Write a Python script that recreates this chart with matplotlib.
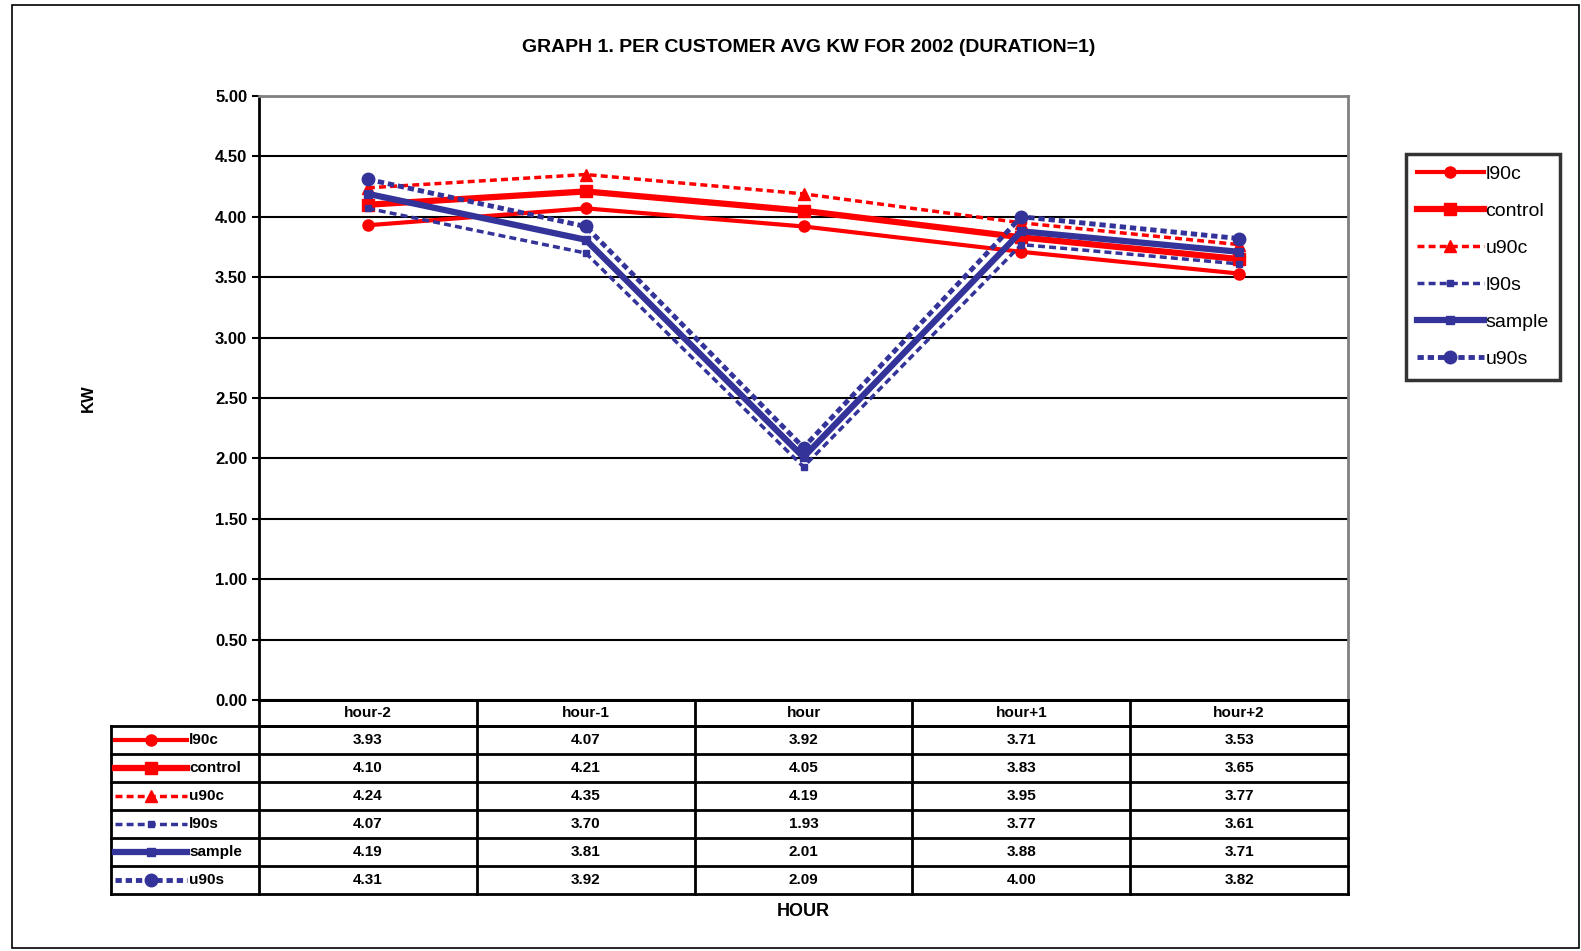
import matplotlib.pyplot as plt

plt.rcParams['font.family'] = ['Liberation Sans', 'DejaVu Sans']

hours = ['hour-2', 'hour-1', 'hour', 'hour+1', 'hour+2']
series = ['l90c', 'control', 'u90c', 'l90s', 'sample', 'u90s']
l90c = [3.93, 4.07, 3.92, 3.71, 3.53]
control = [4.10, 4.21, 4.05, 3.83, 3.65]
u90c = [4.24, 4.35, 4.19, 3.95, 3.77]
l90s = [4.07, 3.70, 1.93, 3.77, 3.61]
sample = [4.19, 3.81, 2.01, 3.88, 3.71]
u90s = [4.31, 3.92, 2.09, 4.00, 3.82]
values = [l90c, control, u90c, l90s, sample, u90s]

red = '#ff0000'
blue = '#333399'
# style per series: colour, linestyle, width, marker, marker size
styles = [
    (red, '-', 3.0, 'o', 8),
    (red, '-', 4.5, 's', 9),
    (red, (0, (2, 1.2)), 2.5, '^', 9),
    (blue, (0, (2, 1.2)), 2.5, 's', 5),
    (blue, '-', 4.5, 's', 6),
    (blue, (0, (1.3, 0.8)), 3.5, 'o', 9),
]

W, H = 1581, 951
fig = plt.figure(figsize=(W / 100, H / 100), dpi=100)

# pixel helper axes for frame and table
bg = fig.add_axes([0, 0, 1, 1])
bg.set_xlim(0, W)
bg.set_ylim(H, 0)
bg.axis('off')
bg.add_patch(plt.Rectangle((12, 5), W - 14, H - 8, fill=False, lw=1.2, ec='black'))

left, right, top, bottom = 259, 1348, 96, 700
ax = fig.add_axes([left / W, 1 - bottom / H, (right - left) / W, (bottom - top) / H])
ax.set_xlim(-0.5, len(hours) - 0.5)
ax.set_ylim(0, 5)
ax.set_yticks([i * 0.5 for i in range(11)])
ax.set_yticklabels(['%.2f' % (i * 0.5) for i in range(11)], fontsize=12, fontweight='bold')
ax.set_xticks([])
ax.grid(axis='y', color='black', lw=1.5)
ax.spines['top'].set_color('#808080')
ax.spines['right'].set_color('#808080')
ax.spines['top'].set_linewidth(2)
ax.spines['right'].set_linewidth(2)
ax.spines['left'].set_linewidth(2)
ax.spines['bottom'].set_linewidth(2)
ax.tick_params(axis='y', length=5, width=1.5)
ax.set_ylabel('KW', fontsize=12, fontweight='bold')
ax.yaxis.set_label_coords(-0.15, 0.5)

x = list(range(len(hours)))
handles = []
for name, vals, (c, ls, lw, mk, ms) in zip(series, values, styles):
    h, = ax.plot(x, vals, color=c, ls=ls, lw=lw, marker=mk, ms=ms, label=name, zorder=3)
    handles.append(h)

ax.set_title('GRAPH 1. PER CUSTOMER AVG KW FOR 2002 (DURATION=1)', fontsize=14,
             fontweight='bold', pad=32, x=0.505)

fig.legend(handles=handles, loc='upper left', bbox_to_anchor=(1396 / W, 1 - 144 / H),
           fontsize=14, handlelength=3.4, handletextpad=0.1, labelspacing=1.0,
           frameon=True, fancybox=False, edgecolor='black', borderpad=0.6)
leg = fig.legends[0]
leg.get_frame().set_linewidth(2.5)

# data table under the axis
tab_left = 111
col_w = (right - left) / len(hours)
head_bot = 726
row_h = (894 - head_bot) / len(series)
lk = dict(color='black', lw=2)
bg.plot([left, right], [bottom, bottom], **lk)
bg.plot([left, right], [head_bot, head_bot], **lk)
bg.plot([tab_left, right], [894, 894], **lk)
for i in range(len(series)):
    y = head_bot + i * row_h
    bg.plot([tab_left, right], [y, y], **lk)
bg.plot([tab_left, tab_left], [head_bot, 894], **lk)
for j in range(len(hours) + 1):
    xx = left + j * col_w
    bg.plot([xx, xx], [bottom, 894], **lk)
for j, hname in enumerate(hours):
    bg.text(left + (j + 0.5) * col_w, (bottom + head_bot) / 2, hname,
            ha='center', va='center', fontsize=11, fontweight='bold')
for i, (name, vals, (c, ls, lw, mk, ms)) in enumerate(zip(series, values, styles)):
    yc = head_bot + (i + 0.5) * row_h
    bg.plot([115, 187], [yc, yc], color=c, ls=ls, lw=lw)
    bg.plot([151], [yc], color=c, marker=mk, ms=ms)
    bg.text(189, yc, name, ha='left', va='center', fontsize=11, fontweight='bold')
    for j, v in enumerate(vals):
        bg.text(left + (j + 0.5) * col_w, yc, '%.2f' % v,
                ha='center', va='center', fontsize=11, fontweight='bold')

bg.text((left + right) / 2, 912, 'HOUR', ha='center', va='center', fontsize=13,
        fontweight='bold')

plt.savefig('out.png', dpi=100)
plt.close()
